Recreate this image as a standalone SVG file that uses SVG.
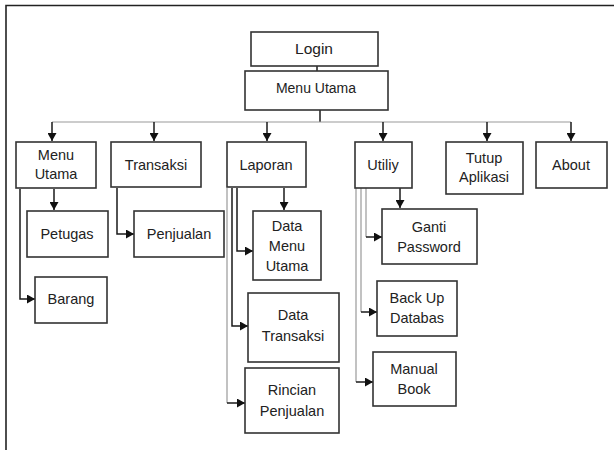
<svg xmlns="http://www.w3.org/2000/svg" width="614" height="450" viewBox="0 0 614 450">
<defs>
<marker id="ah" markerUnits="userSpaceOnUse" markerWidth="9" markerHeight="9" refX="8" refY="4.5" orient="auto">
<path d="M0,0 L8,4.5 L0,9 Z" fill="#111"/>
</marker>
<style>
.box{fill:#fff;stroke:#333;stroke-width:1.6}
.t{font-family:"Liberation Sans",Arial,sans-serif;font-size:14.5px;fill:#222;text-anchor:middle}
.c{fill:none;stroke:#1a1a1a;stroke-width:1.5}
.g{fill:none;stroke:#999;stroke-width:1.2}
.a{marker-end:url(#ah)}
</style>
</defs>
<rect width="614" height="450" fill="#fff"/>
<path d="M6,450 V5.5 H614" fill="none" stroke="#222" stroke-width="1.6"/>

<g id="connectors">
<path class="c" d="M317,66 V71"/>
<path class="c" d="M320,110 V122"/>
<path class="g" d="M52,122 H571"/>
<path class="c a" d="M52,122 V141"/>
<path class="c a" d="M154,122 V141"/>
<path class="c a" d="M267,122 V141"/>
<path class="c a" d="M383,122 V141"/>
<path class="c a" d="M487,122 V141"/>
<path class="c a" d="M571,122 V141"/>
<!-- Menu Utama children -->
<path class="c a" d="M54,189 V210"/>
<path class="c a" d="M20,189 V299 H35"/>
<!-- Transaksi -->
<path class="c a" d="M117,188 V234 H134"/>
<!-- Laporan -->
<path class="c a" d="M284,188 V210"/>
<path class="c a" d="M237,188 V251 H253"/>
<path class="c a" d="M232,188 V326 H248"/>
<path class="g" d="M227,188 V403"/>
<path class="c a" d="M227,403 H245"/>
<!-- Utiliy -->
<path class="c a" d="M400,188 V208"/>
<path class="g" d="M366,188 V237"/>
<path class="c a" d="M366,237 H382"/>
<path class="g" d="M361,188 V312"/>
<path class="c a" d="M361,312 H377"/>
<path class="g" d="M356,188 V382"/>
<path class="c a" d="M356,382 H373"/>
</g>

<g id="login"><rect class="box" x="251" y="32" width="127" height="34"/><text class="t" x="314" y="54" style="font-size:15.5px">Login</text></g>
<g id="menu-utama-main"><rect class="box" x="245" y="71" width="143" height="39"/><text class="t" x="316" y="93" style="font-size:14px">Menu Utama</text></g>

<g id="menu-utama"><rect class="box" x="16" y="142" width="80" height="46"/><text class="t" x="56" y="160">Menu</text><text class="t" x="56" y="179">Utama</text></g>
<g id="transaksi"><rect class="box" x="111" y="142" width="90" height="45"/><text class="t" x="156" y="170">Transaksi</text></g>
<g id="laporan"><rect class="box" x="227" y="142" width="79" height="45"/><text class="t" x="266" y="170">Laporan</text></g>
<g id="utiliy"><rect class="box" x="355" y="142" width="57" height="46"/><text class="t" x="383" y="170">Utiliy</text></g>
<g id="tutup"><rect class="box" x="446" y="142" width="77" height="52"/><text class="t" x="484" y="163">Tutup</text><text class="t" x="484" y="182">Aplikasi</text></g>
<g id="about"><rect class="box" x="536" y="142" width="71" height="46"/><text class="t" x="571" y="170">About</text></g>

<g id="petugas"><rect class="box" x="27" y="211" width="81" height="46"/><text class="t" x="67" y="239">Petugas</text></g>
<g id="barang"><rect class="box" x="35" y="277" width="72" height="46"/><text class="t" x="71" y="304">Barang</text></g>
<g id="penjualan"><rect class="box" x="134" y="211" width="90" height="46"/><text class="t" x="179" y="239">Penjualan</text></g>

<g id="data-menu-utama"><rect class="box" x="253" y="211" width="68" height="69"/><text class="t" x="287" y="231">Data</text><text class="t" x="287" y="251">Menu</text><text class="t" x="287" y="271">Utama</text></g>
<g id="data-transaksi"><rect class="box" x="248" y="293" width="91" height="69"/><text class="t" x="293" y="320">Data</text><text class="t" x="293" y="341">Transaksi</text></g>
<g id="rincian"><rect class="box" x="245" y="368" width="94" height="65"/><text class="t" x="292" y="395">Rincian</text><text class="t" x="292" y="416">Penjualan</text></g>

<g id="ganti"><rect class="box" x="382" y="209" width="95" height="55"/><text class="t" x="429" y="232">Ganti</text><text class="t" x="429" y="252">Password</text></g>
<g id="backup"><rect class="box" x="377" y="281" width="80" height="55"/><text class="t" x="417" y="303">Back Up</text><text class="t" x="417" y="323">Databas</text></g>
<g id="manual"><rect class="box" x="373" y="352" width="83" height="54"/><text class="t" x="414" y="374">Manual</text><text class="t" x="414" y="394">Book</text></g>
</svg>
